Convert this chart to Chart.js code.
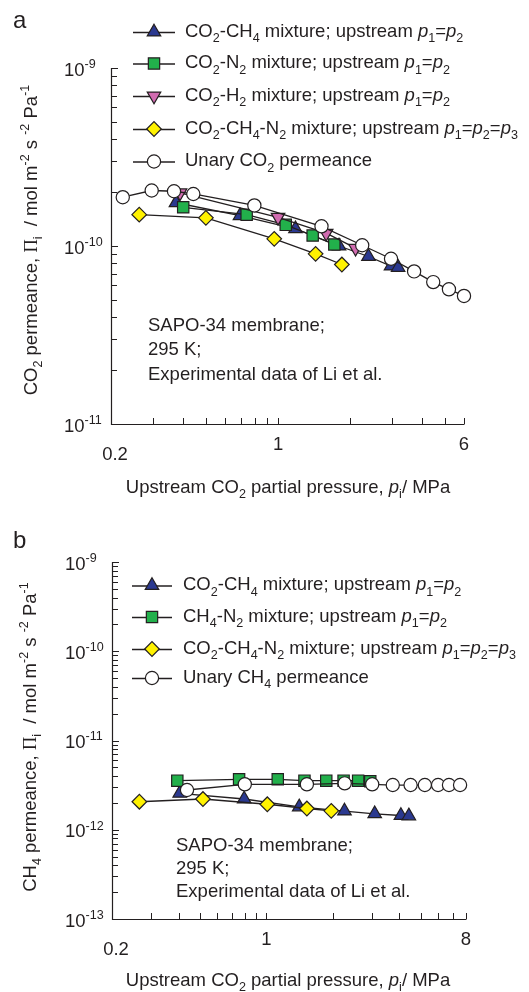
<!DOCTYPE html>
<html>
<head>
<meta charset="utf-8">
<script src="https://cdn.jsdelivr.net/npm/chart.js@4/dist/chart.umd.min.js"></script>
<style>
  html, body { margin: 0; padding: 0; background: #ffffff; }
  #wrap { position: relative; width: 529px; height: 992px; }
  #wrap canvas { position: absolute; left: 0; }
</style>
</head>
<body>
<div id="wrap">
  <canvas id="chartA" width="529" height="500" style="top:0px"></canvas>
  <canvas id="chartB" width="529" height="492" style="top:500px"></canvas>
</div>
<script>
// ---------- Panel a: CO2 permeance vs upstream CO2 partial pressure (MPa) ----------
const aCo2Ch4P     = [0.374, 0.693, 1.183, 1.80, 2.39, 2.97, 3.18];
const aCo2Ch4Perm  = [1.75e-10, 1.48e-10, 1.25e-10, 1.00e-10, 8.73e-11, 7.72e-11, 7.58e-11];
const aCo2N2P      = [0.401, 0.739, 1.077, 1.396, 1.72];
const aCo2N2Perm   = [1.65e-10, 1.50e-10, 1.315e-10, 1.145e-10, 1.02e-10];
const aCo2H2P      = [0.389, 1.00, 1.59, 2.11];
const aCo2H2Perm   = [1.99e-10, 1.45e-10, 1.18e-10, 9.72e-11];
const aTernaryP    = [0.2625, 0.499, 0.964, 1.436, 1.85];
const aTernaryPerm = [1.50e-10, 1.44e-10, 1.097e-10, 9.04e-11, 7.87e-11];
const aUnaryP      = [0.224, 0.296, 0.367, 0.442, 0.796, 1.52, 2.25, 2.97, 3.71, 4.46, 5.19, 6.00];
const aUnaryPerm   = [1.88e-10, 2.05e-10, 2.03e-10, 1.96e-10, 1.69e-10, 1.29e-10, 1.01e-10, 8.48e-11, 7.20e-11, 6.27e-11, 5.71e-11, 5.24e-11];
const aXTickLabels = [0.2, 1, 6];
const aYTickExps   = [-9, -10, -11];

// ---------- Panel b: CH4 permeance vs upstream CO2 partial pressure ----------
const bCo2Ch4P     = [0.405, 0.793, 1.407, 2.255, 3.09, 4.06, 4.41];
const bCo2Ch4Perm  = [2.56e-12, 2.21e-12, 1.80e-12, 1.62e-12, 1.51e-12, 1.445e-12, 1.43e-12];
const bCh4N2P      = [0.395, 0.752, 1.125, 1.486, 1.865, 2.234, 2.60, 2.95];
const bCh4N2Perm   = [3.55e-12, 3.67e-12, 3.67e-12, 3.55e-12, 3.55e-12, 3.55e-12, 3.55e-12, 3.50e-12];
const bTernaryP    = [0.266, 0.516, 1.009, 1.524, 1.965];
const bTernaryPerm = [2.06e-12, 2.21e-12, 1.93e-12, 1.73e-12, 1.63e-12];
const bUnaryP      = [0.437, 0.798, 1.524, 2.26, 3.01, 3.73, 4.49, 5.21, 5.98, 6.70, 7.52];
const bUnaryPerm   = [2.79e-12, 3.23e-12, 3.23e-12, 3.31e-12, 3.23e-12, 3.17e-12, 3.17e-12, 3.17e-12, 3.17e-12, 3.17e-12, 3.17e-12];
const bXTickLabels = [0.2, 1, 8];
const bYTickExps   = [-9, -10, -11, -12, -13];

const INK = '#231f20';
const SANS = '"Liberation Sans", Arial, Helvetica, sans-serif';
const SERIF = '"Liberation Serif", "Times New Roman", serif';
const FS = 18.5;

const MARK = {
  ch4:     { shape: 'triangle', r: 7.8, rot: 0,   fill: '#2b3990' },
  n2:      { shape: 'rect',     r: 8.0, rot: 0,   fill: '#22b04b' },
  h2:      { shape: 'triangle', r: 7.8, rot: 180, fill: '#d16bb0' },
  ternary: { shape: 'rectRot',  r: 7.3, rot: 0,   fill: '#fff200' },
  unary:   { shape: 'circle',   r: 6.6, rot: 0,   fill: '#ffffff' }
};

function series(xs, ys, m, order) {
  return {
    data: xs.map((x, i) => ({ x: x, y: ys[i] })),
    showLine: true,
    borderColor: INK,
    borderWidth: 1.3,
    pointStyle: m.shape,
    pointRadius: m.r,
    pointRotation: m.rot,
    pointBackgroundColor: m.fill,
    pointBorderColor: INK,
    pointBorderWidth: 1.2,
    pointHoverRadius: m.r,
    clip: false,
    order: order
  };
}

// Mini markup: *italic*, _{sub}, ^{sup}; the Greek capital Pi is set in a serif face
function parseRich(str) {
  const segs = [];
  let italic = false, buf = '', i = 0;
  const push = (t, mode) => {
    if (!t) return;
    t.split(/(Π)/).forEach(part => { if (part) segs.push({ t: part, mode: mode, italic: italic }); });
  };
  while (i < str.length) {
    const c = str[i];
    if (c === '*') { push(buf, 'n'); buf = ''; italic = !italic; i++; }
    else if ((c === '_' || c === '^') && str[i + 1] === '{') {
      push(buf, 'n'); buf = '';
      const end = str.indexOf('}', i);
      push(str.slice(i + 2, end), c === '_' ? 'sub' : 'sup');
      i = end + 1;
    } else { buf += c; i++; }
  }
  push(buf, 'n');
  return segs;
}
function segFont(seg, size) {
  const s = seg.mode === 'n' ? size : size * 0.68;
  const fam = seg.t === 'Π' ? SERIF : SANS;
  return (seg.italic ? 'italic ' : '') + s.toFixed(2) + 'px ' + fam;
}
// y is the vertical centre of capital letters
function drawRich(ctx, str, x, y, size, align) {
  const segs = parseRich(str);
  let total = 0;
  segs.forEach(s => { ctx.font = segFont(s, size); s.w = ctx.measureText(s.t).width; total += s.w; });
  let sx = align === 'center' ? x - total / 2 : (align === 'right' ? x - total : x);
  const base = y + size * 0.358;
  ctx.textBaseline = 'alphabetic';
  ctx.textAlign = 'left';
  segs.forEach(s => {
    ctx.font = segFont(s, size);
    const dy = s.mode === 'sub' ? size * 0.30 : (s.mode === 'sup' ? -size * 0.42 : 0);
    ctx.fillText(s.t, sx, base + dy);
    sx += s.w;
  });
}

function logTicks(min, max) {
  const out = [];
  for (let e = Math.floor(Math.log10(min)); e <= Math.ceil(Math.log10(max)); e++) {
    for (let k = 1; k < 10; k++) {
      const v = k * Math.pow(10, e);
      if (v >= min * 0.9999 && v <= max * 1.0001) out.push({ v: v, major: k === 1 });
    }
  }
  return out;
}

function drawMarker(ctx, m, x, y) {
  ctx.save();
  ctx.fillStyle = m.fill;
  ctx.strokeStyle = INK;
  ctx.lineWidth = 1.2;
  Chart.helpers.drawPoint(ctx, { pointStyle: m.shape, radius: m.r, rotation: m.rot, borderWidth: 1.2 }, x, y);
  ctx.restore();
}

// Axes, ticks, labels, legend and notes drawn on top of the plotted series
const decorPlugin = {
  id: 'decor',
  afterDraw(chart, args, o) {
    const ctx = chart.ctx;
    const xs = chart.scales.x, ys = chart.scales.y;
    const L = chart.chartArea.left, R = chart.chartArea.right;
    const T = chart.chartArea.top, B = chart.chartArea.bottom;
    ctx.save();
    ctx.strokeStyle = INK;
    ctx.fillStyle = INK;
    ctx.lineWidth = 1.2;

    // axis lines (left and bottom only)
    ctx.beginPath();
    ctx.moveTo(L + 0.5, T);
    ctx.lineTo(L + 0.5, B + 0.5);
    ctx.lineTo(R + 0.5, B + 0.5);
    ctx.stroke();

    // inward ticks
    ctx.lineWidth = 1;
    ctx.beginPath();
    logTicks(xs.min, xs.max).forEach(t => {
      const px = Math.round(xs.getPixelForValue(t.v)) + 0.5;
      ctx.moveTo(px, B);
      ctx.lineTo(px, B - 6);
    });
    logTicks(ys.min, ys.max).forEach(t => {
      const py = Math.round(ys.getPixelForValue(t.v)) + 0.5;
      ctx.moveTo(L, py);
      ctx.lineTo(L + (t.major ? 7 : 6), py);
    });
    ctx.stroke();

    // y tick labels
    o.yExps.forEach(e => {
      const py = ys.getPixelForValue(Math.pow(10, e));
      drawRich(ctx, '10^{' + e + '}', o.yLabelX, py + 1, FS, 'left');
    });
    // x tick labels
    o.xLabels.forEach((v, i) => {
      const px = xs.getPixelForValue(v);
      const low = i === 0;
      drawRich(ctx, String(v), px + (low ? 4 : 0), B + (low ? 29 : 19), FS, 'center');
    });

    // axis titles
    drawRich(ctx, o.xTitle, o.xTitlePos[0], o.xTitlePos[1], FS, 'center');
    ctx.save();
    ctx.translate(o.yTitlePos[0], o.yTitlePos[1]);
    ctx.rotate(-Math.PI / 2);
    drawRich(ctx, o.yTitle, 0, 0, FS, 'center');
    ctx.restore();

    // panel letter
    ctx.font = '24px ' + SANS;
    ctx.textAlign = 'left';
    ctx.textBaseline = 'alphabetic';
    ctx.fillText(o.letter, o.letterPos[0], o.letterPos[1]);

    // legend
    ctx.lineWidth = 1.3;
    o.legend.forEach((row, i) => {
      const y = o.legendY[i];
      ctx.beginPath();
      ctx.moveTo(o.legendLine[0], y + 0.5);
      ctx.lineTo(o.legendLine[1], y + 0.5);
      ctx.stroke();
      drawMarker(ctx, row.m, (o.legendLine[0] + o.legendLine[1]) / 2, y);
      drawRich(ctx, row.text, o.legendTextX, y - 2, FS, 'left');
    });

    // notes
    o.notes.forEach((t, i) => drawRich(ctx, t, o.notesPos[0], o.notesPos[1] + i * o.notesGap, FS, 'left'));

    ctx.restore();
  }
};

function buildChart(id, datasets, xMax, yMin, yMax, padding, decor) {
  return new Chart(document.getElementById(id), {
    type: 'scatter',
    data: { datasets: datasets },
    options: {
      responsive: false,
      animation: false,
      devicePixelRatio: 1,
      events: [],
      layout: { padding: padding },
      plugins: { legend: { display: false }, tooltip: { enabled: false }, decor: decor },
      scales: {
        x: { type: 'logarithmic', min: 0.2, max: xMax, bounds: 'data', display: false },
        y: { type: 'logarithmic', min: yMin, max: yMax, bounds: 'data', display: false }
      }
    },
    plugins: [decorPlugin]
  });
}

const notes = ['SAPO-34 membrane;', '295 K;', 'Experimental data of Li et al.'];
const xTitle = 'Upstream CO_{2} partial pressure, *p*_{i}/ MPa';

buildChart('chartA', [
  series(aUnaryP, aUnaryPerm, MARK.unary, 0),
  series(aTernaryP, aTernaryPerm, MARK.ternary, 1),
  series(aCo2H2P, aCo2H2Perm, MARK.h2, 2),
  series(aCo2N2P, aCo2N2Perm, MARK.n2, 3),
  series(aCo2Ch4P, aCo2Ch4Perm, MARK.ch4, 4)
], 6, 1e-11, 1e-9, { left: 111, top: 68, right: 65, bottom: 76 }, {
  letter: 'a', letterPos: [13, 28],
  yExps: aYTickExps, yLabelX: 64,
  xLabels: aXTickLabels,
  xTitle: xTitle, xTitlePos: [288, 486],
  yTitle: 'CO_{2} permeance, Π_{i}  / mol m^{-2} s ^{-2} Pa^{-1}', yTitlePos: [30, 240],
  legendLine: [133, 175], legendTextX: 185,
  legendY: [32, 63.5, 96, 129, 161.5],
  legend: [
    { m: MARK.ch4, text: 'CO_{2}-CH_{4} mixture; upstream *p*_{1}=*p*_{2}' },
    { m: MARK.n2, text: 'CO_{2}-N_{2} mixture; upstream *p*_{1}=*p*_{2}' },
    { m: MARK.h2, text: 'CO_{2}-H_{2} mixture; upstream *p*_{1}=*p*_{2}' },
    { m: MARK.ternary, text: 'CO_{2}-CH_{4}-N_{2} mixture; upstream *p*_{1}=*p*_{2}=*p*_{3}' },
    { m: MARK.unary, text: 'Unary CO_{2} permeance' }
  ],
  notes: notes, notesPos: [148, 324], notesGap: 24.5
});

buildChart('chartB', [
  series(bUnaryP, bUnaryPerm, MARK.unary, 0),
  series(bTernaryP, bTernaryPerm, MARK.ternary, 1),
  series(bCh4N2P, bCh4N2Perm, MARK.n2, 2),
  series(bCo2Ch4P, bCo2Ch4Perm, MARK.ch4, 3)
], 8, 1e-13, 1e-9, { left: 112, top: 62, right: 63, bottom: 73 }, {
  letter: 'b', letterPos: [13, 48],
  yExps: bYTickExps, yLabelX: 65,
  xLabels: bXTickLabels,
  xTitle: xTitle, xTitlePos: [288, 479],
  yTitle: 'CH_{4} permeance, Π_{i}  / mol m^{-2} s ^{-2} Pa^{-1}', yTitlePos: [29, 237],
  legendLine: [132, 172], legendTextX: 183,
  legendY: [85.5, 117, 149, 178],
  legend: [
    { m: MARK.ch4, text: 'CO_{2}-CH_{4} mixture; upstream *p*_{1}=*p*_{2}' },
    { m: MARK.n2, text: 'CH_{4}-N_{2} mixture; upstream *p*_{1}=*p*_{2}' },
    { m: MARK.ternary, text: 'CO_{2}-CH_{4}-N_{2} mixture; upstream *p*_{1}=*p*_{2}=*p*_{3}' },
    { m: MARK.unary, text: 'Unary CH_{4} permeance' }
  ],
  notes: notes, notesPos: [176, 344], notesGap: 23
});
</script>
</body>
</html>
